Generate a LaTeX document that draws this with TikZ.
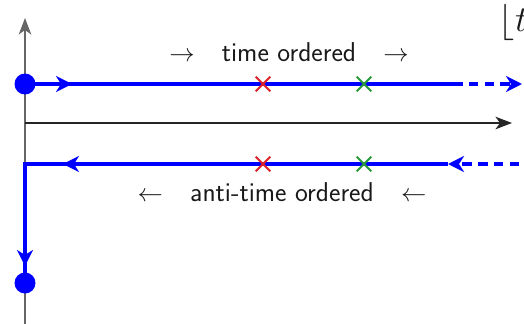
\documentclass[tikz,border=0pt]{standalone}
\usepackage{tikz}
\usetikzlibrary{arrows.meta,shapes.misc,positioning,calc}
\definecolor{ctrblue}{HTML}{0000FF}
\definecolor{crossred}{HTML}{E0202A}
\definecolor{crossgreen}{HTML}{2A9A3A}
\tikzset{
  axis/.style={black!85, line width=1pt, -{Stealth[length=3.3mm,width=2.5mm,inset=0.9mm]}},
  branch/.style={ctrblue, line width=2pt},
  flow/.style={branch, -{Stealth[length=3.2mm,width=3.2mm,inset=1mm]}},
  tail/.style={flow, dash pattern=on 5.5pt off 3.5pt},
  endpoint/.style={circle, fill=ctrblue, inner sep=0pt, minimum size=4.2mm},
  vertex/.style={cross out, draw, line width=1.2pt, minimum size=2.5mm, inner sep=0pt},
  ordtext/.style={font=\sffamily\fontsize{15.5}{18}\selectfont, text=black!90, inner sep=1pt},
}

\begin{document}
\begin{tikzpicture}
  \useasboundingbox (0,0) rectangle (10.48,6.46);
  % axes
  \coordinate (yBot) at (0.5,-0.1);
  \coordinate (yTop) at (0.5,6.1);
  \coordinate (xLeft) at (0.5,4.0);
  \coordinate (xRight) at (10.24,4.0);
  \draw[axis, black!60] (yBot) -- (yTop);
  \draw[axis] (xLeft) -- (xRight);
  % forward branch
  \node[endpoint] (start) at (0.5,4.78) {};
  \coordinate (fwdTip) at (1.44,4.78);
  \coordinate (fwdEnd) at (9.06,4.78);
  \coordinate (fwdFar) at (10.44,4.78);
  \draw[branch] (start.center) -- (fwdEnd);
  \draw[flow] (start.center) -- (fwdTip);
  \draw[tail] (fwdEnd) -- (fwdFar);
  % backward branch
  \coordinate (bwdFar) at (10.7,3.18);
  \coordinate (bwdEnd) at (8.96,3.18);
  \coordinate (bwdTip) at (1.26,3.18);
  \coordinate (corner) at (0.5,3.18);
  \coordinate (downTip) at (0.5,1.14);
  \node[endpoint] (stop) at (0.5,0.8) {};
  \draw[tail] (bwdFar) -- (bwdEnd);
  \draw[branch] (bwdEnd) -- (corner) -- (stop.center);
  \draw[flow] (bwdEnd) -- (bwdTip);
  \draw[flow] (corner) -- (downTip);
  % vertices
  \node[vertex, crossred] (redUp) at (5.26,4.78) {};
  \node[vertex, crossgreen] (greenUp) at (7.28,4.78) {};
  \node[vertex, crossred] (redDown) at (5.26,3.18) {};
  \node[vertex, crossgreen] (greenDown) at (7.28,3.18) {};
  % labels
  \node[ordtext] (timeord) at (5.78,5.42) {$\rightarrow$\quad time ordered\quad$\rightarrow$};
  \node[ordtext] (antiord) at (5.64,2.62) {$\leftarrow$\quad anti-time ordered\quad$\leftarrow$};
  \node[anchor=west, inner sep=0pt, text=black!90] (tlab) at (9.97,6.02) {\huge$\lfloor t$};
\end{tikzpicture}
\end{document}
